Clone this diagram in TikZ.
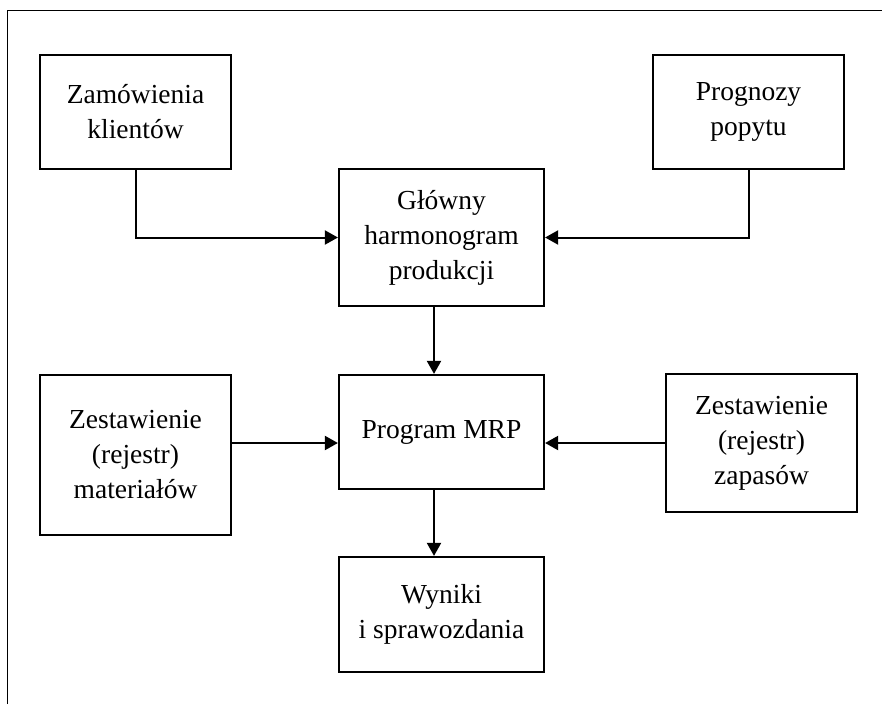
\documentclass[tikz,border=0pt]{standalone}
\usepackage{fontspec}
\setmainfont{Liberation Serif}
\usetikzlibrary{arrows.meta}
\tikzstyle{blok}=[shape = rectangle, draw, line width = 2.2pt, align = center, inner sep = 2pt, font = \fontsize{27.5}{35}\selectfont]
\tikzstyle{strzalka}=[line width = 2pt, -{Triangle[length = 13pt, width = 14pt]}]

\begin{document}
\begin{tikzpicture}[x = 1pt, y = -1pt]
\useasboundingbox (0,0) rectangle (882,704);
\draw[line width = 1pt] (7,704) -- (7,10) -- (882,10);
\node[blok, minimum width = 191pt, minimum height = 114pt] (zam) at (135.5,112) {Zamówienia\\klientów};
\node[blok, minimum width = 191pt, minimum height = 114pt] (prog) at (748.5,112) {Prognozy\\popytu};
\node[blok, minimum width = 205pt, minimum height = 137pt] (glowny) at (441.5,237.5) {Główny\\harmonogram\\produkcji};
\node[blok, minimum width = 205pt, minimum height = 114pt] (mrp) at (441.5,432) {Program MRP};
\node[blok, minimum width = 191pt, minimum height = 160pt] (mat) at (135.5,455) {Zestawienie\\(rejestr)\\materiałów};
\node[blok, minimum width = 191pt, minimum height = 138pt] (zap) at (761.5,443) {Zestawienie\\(rejestr)\\zapasów};
\node[blok, minimum width = 205pt, minimum height = 115pt] (wyn) at (441.5,614.5) {Wyniki\\i sprawozdania};
\coordinate (os) at (434,0);
\draw[strzalka] (zam.south) |- (glowny.west);
\draw[strzalka] (prog.south) |- (glowny.east);
\draw[strzalka] (os |- glowny.south) -- (os |- mrp.north);
\draw[strzalka] (mat.east |- zap.west) -- (zap.west -| mrp.west);
\draw[strzalka] (zap.west) -- (zap.west -| mrp.east);
\draw[strzalka] (os |- mrp.south) -- (os |- wyn.north);
\end{tikzpicture}
\end{document}
